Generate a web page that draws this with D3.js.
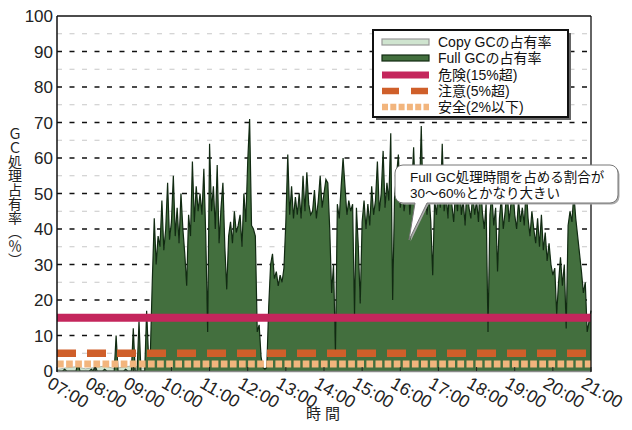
<!DOCTYPE html>
<html><head><meta charset="utf-8">
<script src="https://cdn.jsdelivr.net/npm/d3@7"></script>
<style>
body{margin:0;background:#fff;}
svg{display:block;font-family:"Liberation Sans",Arial,"Noto Sans CJK JP",sans-serif;}
</style></head><body>
<svg id="c" width="632" height="430"></svg>
<script>
// ---- data (values in %, Full GC every 3 minutes from 07:00) ----
const fullGC = [
 0,0,0,0,0.5,0,0,0,0,0,0,2.5,0,0,0,0,0,0,0.5,0,
 1.5,0,0,0,0,0.5,0,0,0,0,0,10,0,0,0,0,0.5,0,0,0,
 12,0,0,14,0,0,0,17,4,6,26,43,30,38,35,48,34,40,53,37,
 42,55,38,46,36,50,40,33,24,44,38,59,42,52,45,50,44,57,38,11,
 64,45,52,40,58,36,46,53,35,23,38,42,36,45,39,41,44,35,50,42,
 59,71,41,40,38,11,13,4,1,0.5,1,18,30,33,26,28,24,27,25,29,
 42,61,44,52,43,49,44,50,43,55,45,56,47,44,45,51,43,48,55,46,
 50,54,53,40,22,30,5,47,43,52,60,52,44,48,45,47,16,46,35,19,
 42,48,40,47,41,52,44,48,59,45,50,62,46,53,48,67,20,49,55,61,
 46,52,45,50,56,44,51,63,47,53,48,69,45,52,44,50,42,27,48,44,
 52,46,64,45,50,43,55,47,42,51,45,58,44,48,41,53,46,43,50,44,
 48,42,55,45,40,47,11,44,50,41,46,28,43,49,40,45,52,42,47,52,
 44,40,48,42,46,41,52,43,38,45,40,36,43,35,44,34,39,31,36,30,
 27,29,16,25,32,24,30,12,41,45,42,50,43,38,33,28,22,25,11,14,
 17
];
// Copy GC every 15 minutes from 07:00
const copyGC = [
 0.4,0.9,1.2,0.6,1.0,1.4,0.7,1.1,1.5,0.8,1.2,0.5,1.0,0.7,0.9,0.6,
 0.8,0.5,0.6,0.4,0.5,0.4,0.6,0.5,0.4,0.5,0.6,0.4,0.5,0.4,0.5,0.6,
 0.4,0.5,0.4,0.6,0.5,0.4,0.5,0.6,0.4,0.5,0.4,0.5,0.6,0.4,0.5,0.4,
 0.5,0.6,0.4,0.5,0.4,0.5,0.6,0.4,0.5
];
const fullStepMin = 3, copyStepMin = 15;
const startHour = 7, endHour = 21;
const yTicks = [0,10,20,30,40,50,60,70,80,90,100];
const yMinor = [5,15,25,35,45,55,65,75,85,95];
const thresholdNames = ["危険(15%超)","注意(5%超)","安全(2%以下)"];
const thresholdValues = [15,5,2];
const seriesNames = ["Copy GCの占有率","Full GCの占有率"];
const xTitle = "時 間";
const yTitle = "ＧＣ処理占有率（％）";
const noteLines = ["Full GC処理時間を占める割合が","30〜60%とかなり大きい"];

// ---- layout ----
const W=632,H=430, L=57, R=591, T=16, B=371;
const svg = d3.select("#c");
const day = h => new Date(2020,0,1,h,0);
const x = d3.scaleTime().domain([day(startHour), day(endHour)]).range([L,R]);
const y = d3.scaleLinear().domain([0,100]).range([B,T]);
const t0 = day(startHour).getTime();
const fullData = fullGC.map((v,i)=>({t:new Date(t0+i*fullStepMin*60000), v}));
const copyData = copyGC.map((v,i)=>({t:new Date(t0+i*copyStepMin*60000), v}));

const colors = {copy:"#cfe4cf", full:"#436f3e", fullLine:"#112a12",
  danger:"#c4265c", caution:"#cf5f2a", safe:"#f2b57d"};

// grid
svg.append("g").selectAll("line").data(yMinor).join("line")
  .attr("x1",L).attr("x2",R).attr("y1",d=>y(d)).attr("y2",d=>y(d))
  .attr("stroke","#c8c8c8").attr("stroke-width",1.2).attr("stroke-dasharray","5,7.5");
svg.append("g").selectAll("line").data(yTicks.filter(d=>d>0&&d<100)).join("line")
  .attr("x1",L).attr("x2",R).attr("y1",d=>y(d)).attr("y2",d=>y(d))
  .attr("stroke","#111").attr("stroke-width",1.3).attr("stroke-dasharray","5,7.5");

// series
const area = d3.area().x(d=>x(d.t)).y0(y(0)).y1(d=>y(d.v));
const line = d3.line().x(d=>x(d.t)).y(d=>y(d.v));
svg.append("path").datum(copyData).attr("d",area).attr("fill",colors.copy).attr("stroke","#9aa89a").attr("stroke-width",0.8);
svg.append("path").datum(fullData).attr("d",area).attr("fill",colors.full);
svg.append("path").datum(fullData).attr("d",line).attr("fill","none").attr("stroke",colors.fullLine).attr("stroke-width",1.2);

// thresholds
const thStyles = [
  {c:colors.danger, w:8, dash:null},
  {c:colors.caution, w:7.5, dash:"19,11"},
  {c:colors.safe, w:7, dash:"6.7,2.4"}];
thresholdValues.forEach((v,i)=>{
  svg.append("line").attr("x1",L).attr("x2",R).attr("y1",y(v)).attr("y2",y(v))
    .attr("stroke",thStyles[i].c).attr("stroke-width",thStyles[i].w)
    .attr("stroke-dasharray",thStyles[i].dash);
});

// frame
svg.append("line").attr("x1",L).attr("x2",R).attr("y1",B+0.5).attr("y2",B+0.5).attr("stroke","#8a8a8a").attr("stroke-width",1.6);
svg.append("line").attr("x1",L).attr("x2",R).attr("y1",T).attr("y2",T).attr("stroke","#111").attr("stroke-width",1.3);
svg.append("line").attr("x1",L).attr("x2",L).attr("y1",T).attr("y2",B+1).attr("stroke","#111").attr("stroke-width",1.5);
svg.append("line").attr("x1",R).attr("x2",R).attr("y1",T).attr("y2",B+1).attr("stroke","#111").attr("stroke-width",1.3);

// x ticks & labels
const hours = x.ticks(d3.timeHour.every(1));
svg.append("g").selectAll("line").data(hours).join("line")
  .attr("x1",d=>x(d)).attr("x2",d=>x(d)).attr("y1",B).attr("y2",B-4)
  .attr("stroke","#222").attr("stroke-width",1);
const fmt = d3.timeFormat("%H:%M");
svg.append("g").selectAll("text").data(hours).join("text")
  .attr("transform",d=>`translate(${x(d)-4},${B+4}) rotate(30)`)
  .attr("dy","0.78em").attr("font-size",17.5).attr("fill","#222").text(d=>fmt(d));

// y labels
svg.append("g").selectAll("text").data(yTicks).join("text")
  .attr("x",L-4).attr("y",d=>y(d)).attr("dy","0.36em").attr("text-anchor","end")
  .attr("font-size",17).attr("fill","#222").text(d=>d);

// titles
svg.append("text").attr("x",323).attr("y",419).attr("text-anchor","middle")
  .attr("font-size",15).attr("fill","#222").text(xTitle);
svg.append("text").attr("x",15).attr("y",197).attr("text-anchor","middle")
  .style("writing-mode","vertical-rl").style("text-orientation","mixed")
  .attr("font-family","'Noto Sans CJK JP',sans-serif")
  .attr("font-size",14).attr("fill","#222").text(yTitle);

// legend
const lg = svg.append("g");
lg.append("rect").attr("x",376).attr("y",33).attr("width",195).attr("height",87).attr("fill","#666");
lg.append("rect").attr("x",373).attr("y",30).attr("width",195).attr("height",87).attr("fill","#fff").attr("stroke","#111").attr("stroke-width",2);
const rows = [42,58,75,91,107];
const legendItems = [
  {name:seriesNames[0], type:"rect", fill:colors.copy, stroke:"#999"},
  {name:seriesNames[1], type:"rect", fill:colors.full, stroke:colors.fullLine},
  {name:thresholdNames[0], type:"line", c:colors.danger, w:7, dash:null},
  {name:thresholdNames[1], type:"line", c:colors.caution, w:6.5, dash:"17,12"},
  {name:thresholdNames[2], type:"line", c:colors.safe, w:6.5, dash:"6,2.3"}];
legendItems.forEach((it,i)=>{
  const yy = rows[i];
  if(it.type==="rect") lg.append("rect").attr("x",382).attr("y",yy-3).attr("width",47).attr("height",6)
     .attr("fill",it.fill).attr("stroke",it.stroke).attr("stroke-width",1.2);
  else lg.append("line").attr("x1",382).attr("x2",429).attr("y1",yy).attr("y2",yy)
     .attr("stroke",it.c).attr("stroke-width",it.w).attr("stroke-dasharray",it.dash);
  lg.append("text").attr("x",438).attr("y",yy).attr("dy","0.36em").attr("font-size",14).attr("fill","#111").text(it.name);
});

// callout
const bx0=395,bx1=618,by0=165,by1=203,r=8;
const cp = d3.path();
cp.moveTo(bx0+r,by0); cp.lineTo(bx1-r,by0); cp.arcTo(bx1,by0,bx1,by0+r,r);
cp.lineTo(bx1,by1-r); cp.arcTo(bx1,by1,bx1-r,by1,r);
cp.lineTo(427,by1); cp.lineTo(409,240); cp.lineTo(415,by1);
cp.lineTo(bx0+r,by1); cp.arcTo(bx0,by1,bx0,by1-r,r);
cp.lineTo(bx0,by0+r); cp.arcTo(bx0,by0,bx0+r,by0,r); cp.closePath();
svg.append("path").attr("d",cp.toString()).attr("transform","translate(1.5,1.5)").attr("fill","#aaa");
svg.append("path").attr("d",cp.toString()).attr("fill","#fff").attr("stroke","#777").attr("stroke-width",1);
noteLines.forEach((s,i)=>svg.append("text").attr("x",410).attr("y",182+i*16)
  .attr("font-size",13.5).attr("fill","#111").text(s));
</script></body></html>
